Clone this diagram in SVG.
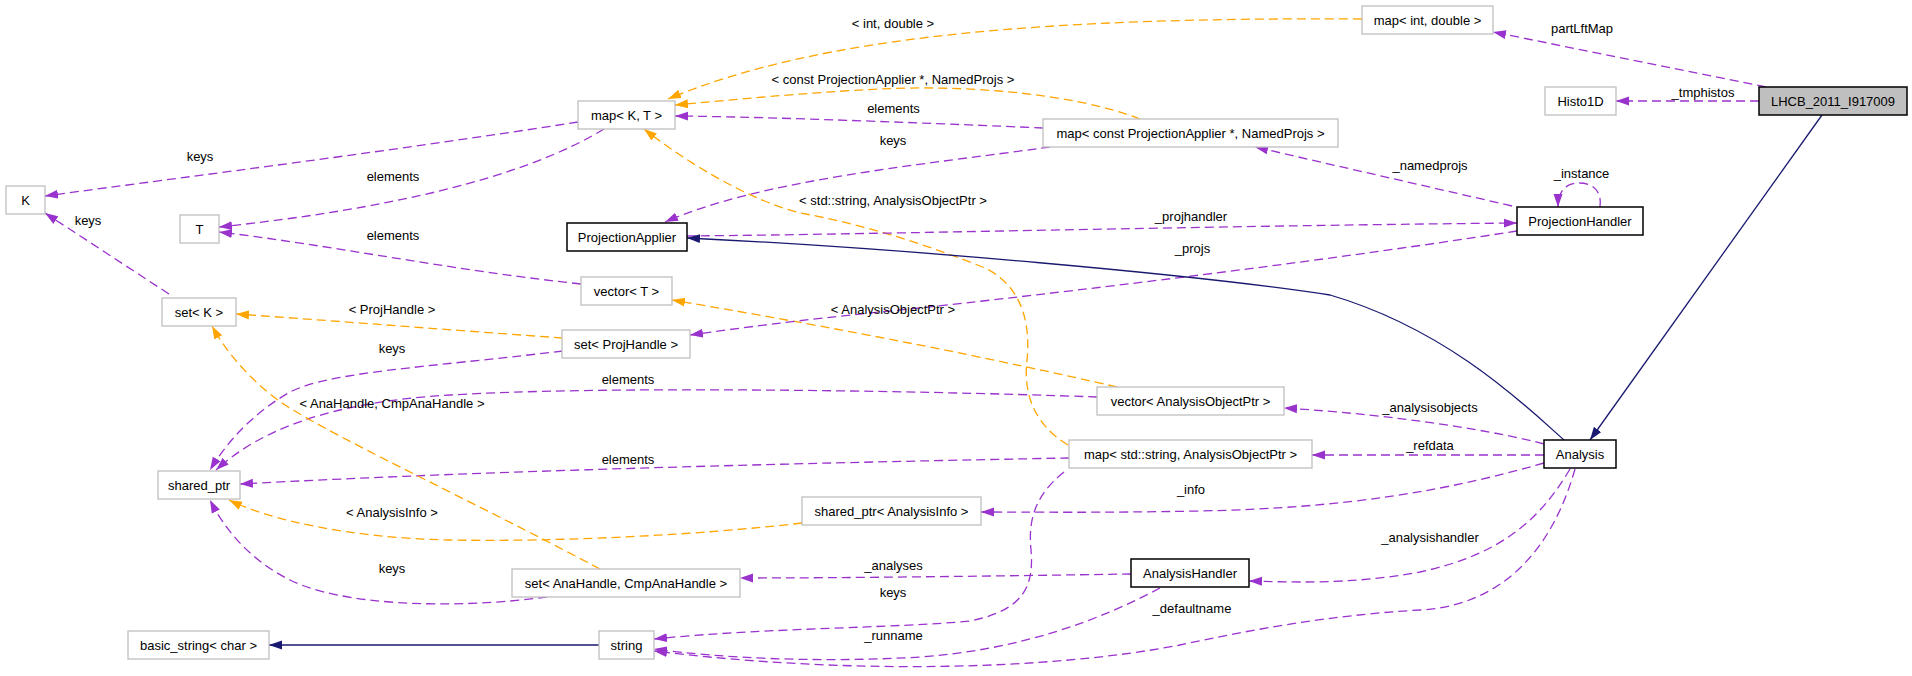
<svg xmlns="http://www.w3.org/2000/svg" width="1912" height="676" viewBox="0 0 1912 676">
<style>
.bg{fill:#ffffff}
.n rect{fill:#ffffff;stroke:#bfbfbf;stroke-width:1.3}
.d rect{fill:#ffffff;stroke:#000000;stroke-width:1.5}
.g rect{fill:#bfbfbf;stroke:#000000;stroke-width:1.5}
text{font-family:"Liberation Sans",Arial,sans-serif;font-size:13px;fill:#000000;text-anchor:middle}
.p{fill:none;stroke:#9a32cd;stroke-width:1.3;stroke-dasharray:9,5}
.o{fill:none;stroke:#ffa500;stroke-width:1.3;stroke-dasharray:9,5}
.b{fill:none;stroke:#191970;stroke-width:1.3}
.p{marker-end:url(#ap)}
.o{marker-end:url(#ao)}
.b{marker-end:url(#ab)}
</style>
<defs>
<marker id="ap" markerUnits="userSpaceOnUse" markerWidth="13" markerHeight="10" viewBox="0 0 13 10" refX="13" refY="5" orient="auto"><path d="M0,0.5 L13,5 L0,9.5 z" fill="#9a32cd"/></marker>
<marker id="ao" markerUnits="userSpaceOnUse" markerWidth="13" markerHeight="10" viewBox="0 0 13 10" refX="13" refY="5" orient="auto"><path d="M0,0.5 L13,5 L0,9.5 z" fill="#ffa500"/></marker>
<marker id="ab" markerUnits="userSpaceOnUse" markerWidth="13" markerHeight="10" viewBox="0 0 13 10" refX="13" refY="5" orient="auto"><path d="M0,0.5 L13,5 L0,9.5 z" fill="#191970"/></marker>
</defs>
<rect class="bg" x="0" y="0" width="1912" height="676"/>

<g id="connectors">
<path class="o" d="M1362,19 C1050,17 820,35 668,99"/>
<path class="p" d="M1766,87 L1493,32"/>
<path class="p" d="M1759,101 L1616,101"/>
<path class="b" d="M1822,115 L1590,440"/>
<path class="o" d="M1140,119 C1070,92 960,85 880,89 C800,93 730,100 675,105"/>
<path class="p" d="M1043,128 C950,124 780,117 675,116"/>
<path class="p" d="M1050,147 C920,165 760,180 665,222"/>
<path class="p" d="M578,122 C400,150 200,175 45,196"/>
<path class="p" d="M604,129 C520,180 380,210 219,227"/>
<path class="p" d="M581,284 C450,270 330,245 219,232"/>
<path class="p" d="M169,294 L45,213"/>
<path class="o" d="M563,338 C450,330 350,322 236,314"/>
<path class="p" d="M563,351 C420,368 330,372 290,392 C255,412 228,440 210,470"/>
<path class="p" d="M1097,397 C900,390 600,386 450,395 C330,402 260,430 216,470"/>
<path class="o" d="M1117,387 C1000,360 850,330 672,300"/>
<path class="o" d="M1068,445 C1035,425 1023,395 1027,360 C1031,320 1020,285 985,268 C940,250 870,225 800,213 C750,200 690,165 644,129"/>
<path class="p" d="M1069,458 C850,462 500,470 240,484"/>
<path class="p" d="M1064,472 C1035,495 1028,520 1031,550 C1034,585 1025,610 970,621 C900,628 760,628 654,639"/>
<path class="o" d="M802,523 C700,535 560,542 450,540 C350,538 270,520 229,500"/>
<path class="p" d="M547,597 C450,610 340,605 290,580 C250,560 225,530 210,500"/>
<path class="o" d="M600,569 C480,505 340,440 285,405 C255,385 228,355 212,326"/>
<path class="b" d="M599,645 L269,645"/>
<path class="p" d="M1544,444 C1500,432 1400,415 1284,408"/>
<path class="p" d="M1544,455 L1312,455"/>
<path class="p" d="M1544,463 C1450,490 1350,508 1200,511 C1100,513 1030,512 981,512"/>
<path class="p" d="M1570,469 C1540,520 1500,555 1420,572 C1350,585 1290,582 1249,581"/>
<path class="p" d="M1575,469 C1555,540 1510,605 1420,610 C1330,615 1250,630 1180,645 C1050,670 850,675 654,651"/>
<path class="p" d="M1131,574 C1000,576 850,578 740,578"/>
<path class="p" d="M1160,588 C1100,620 1020,650 920,657 C820,663 720,658 654,649"/>
<path class="p" d="M1512,206 L1255,147"/>
<path class="p" d="M1600,207 C1602,192 1594,183 1579,183 C1565,183 1558,192 1558,207"/>
<path class="p" d="M687,236 C900,234 1200,226 1517,223"/>
<path class="p" d="M1517,231 C1300,265 1000,300 880,312 C800,320 740,328 690,335"/>
<path class="b" d="M1564,440 C1530,410 1450,330 1330,295 C1200,275 900,248 687,238"/>

<text x="893" y="27.5">&lt; int, double &gt;</text>
<text x="1582" y="32.5">partLftMap</text>
<text x="1703" y="96.5">_tmphistos</text>
<text x="893" y="83.5">&lt; const ProjectionApplier *, NamedProjs &gt;</text>
<text x="893.5" y="112.5">elements</text>
<text x="893" y="144.5">keys</text>
<text x="200" y="160.5">keys</text>
<text x="393" y="180.5">elements</text>
<text x="893" y="204.5">&lt; std::string, AnalysisObjectPtr &gt;</text>
<text x="1430" y="169.5">_namedprojs</text>
<text x="1581.5" y="177.5">_instance</text>
<text x="1191" y="220.5">_projhandler</text>
<text x="88" y="224.5">keys</text>
<text x="393" y="239.5">elements</text>
<text x="1192.5" y="252.5">_projs</text>
<text x="392" y="313.5">&lt; ProjHandle &gt;</text>
<text x="893" y="313.5">&lt; AnalysisObjectPtr &gt;</text>
<text x="392" y="352.5">keys</text>
<text x="628" y="383.5">elements</text>
<text x="392" y="407.5">&lt; AnaHandle, CmpAnaHandle &gt;</text>
<text x="1430" y="411.5">_analysisobjects</text>
<text x="1430" y="449.5">_refdata</text>
<text x="628" y="463.5">elements</text>
<text x="1191" y="493.5">_info</text>
<text x="392" y="516.5">&lt; AnalysisInfo &gt;</text>
<text x="1430" y="541.5">_analysishandler</text>
<text x="893.5" y="569.5">_analyses</text>
<text x="392" y="572.5">keys</text>
<text x="893" y="596.5">keys</text>
<text x="1192" y="612.5">_defaultname</text>
<text x="893.5" y="639.5">_runname</text>
</g>

<g id="node-LHCB" class="g"><rect x="1759" y="87" width="148" height="28"/><text x="1833" y="105.5">LHCB_2011_I917009</text></g>
<g id="node-map-int-double" class="n"><rect x="1362" y="6" width="131" height="28"/><text x="1427.5" y="24.5">map&lt; int, double &gt;</text></g>
<g id="node-Histo1D" class="n"><rect x="1545" y="87" width="71" height="28"/><text x="1580.5" y="105.5">Histo1D</text></g>
<g id="node-map-K-T" class="n"><rect x="578" y="101" width="97" height="28"/><text x="626.5" y="119.5">map&lt; K, T &gt;</text></g>
<g id="node-map-const-PA" class="n"><rect x="1043" y="119" width="295" height="28"/><text x="1190.5" y="137.5">map&lt; const ProjectionApplier *, NamedProjs &gt;</text></g>
<g id="node-K" class="n"><rect x="6" y="186" width="39" height="28"/><text x="25.5" y="204.5">K</text></g>
<g id="node-T" class="n"><rect x="180" y="215" width="39" height="28"/><text x="199.5" y="233.5">T</text></g>
<g id="node-ProjectionApplier" class="d"><rect x="567" y="223" width="120" height="28"/><text x="627" y="241.5">ProjectionApplier</text></g>
<g id="node-ProjectionHandler" class="d"><rect x="1517" y="207" width="126" height="28"/><text x="1580" y="225.5">ProjectionHandler</text></g>
<g id="node-vector-T" class="n"><rect x="581" y="277" width="91" height="28"/><text x="626.5" y="295.5">vector&lt; T &gt;</text></g>
<g id="node-set-K" class="n"><rect x="162" y="298" width="74" height="28"/><text x="199" y="316.5">set&lt; K &gt;</text></g>
<g id="node-set-ProjHandle" class="n"><rect x="562" y="330" width="128" height="28"/><text x="626" y="348.5">set&lt; ProjHandle &gt;</text></g>
<g id="node-vector-AOP" class="n"><rect x="1097" y="387" width="187" height="28"/><text x="1190.5" y="405.5">vector&lt; AnalysisObjectPtr &gt;</text></g>
<g id="node-map-string-AOP" class="n"><rect x="1069" y="440" width="243" height="28"/><text x="1190.5" y="458.5">map&lt; std::string, AnalysisObjectPtr &gt;</text></g>
<g id="node-Analysis" class="d"><rect x="1544" y="440" width="72" height="28"/><text x="1580" y="458.5">Analysis</text></g>
<g id="node-shared_ptr" class="n"><rect x="158" y="471" width="82" height="28"/><text x="199" y="489.5">shared_ptr</text></g>
<g id="node-shared_ptr-AI" class="n"><rect x="802" y="497" width="179" height="28"/><text x="891.5" y="515.5">shared_ptr&lt; AnalysisInfo &gt;</text></g>
<g id="node-set-AnaHandle" class="n"><rect x="512" y="569" width="228" height="28"/><text x="626" y="587.5">set&lt; AnaHandle, CmpAnaHandle &gt;</text></g>
<g id="node-AnalysisHandler" class="d"><rect x="1131" y="559" width="118" height="28"/><text x="1190" y="577.5">AnalysisHandler</text></g>
<g id="node-basic_string" class="n"><rect x="128" y="631" width="141" height="28"/><text x="198.5" y="649.5">basic_string&lt; char &gt;</text></g>
<g id="node-string" class="n"><rect x="599" y="631" width="55" height="28"/><text x="626.5" y="649.5">string</text></g>
</svg>
